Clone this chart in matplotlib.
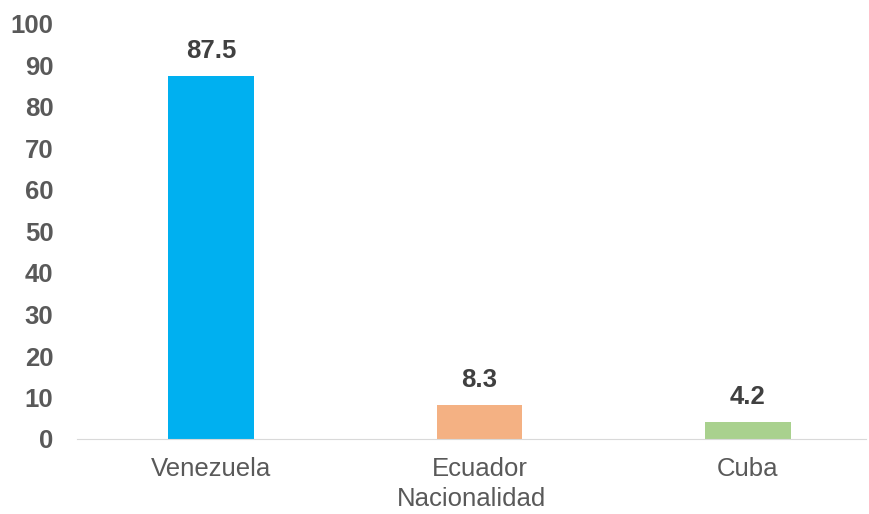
import matplotlib
matplotlib.use("Agg")
import matplotlib.pyplot as plt

countries = ["Venezuela", "Ecuador", "Cuba"]
shares = [87.5, 8.3, 4.2]
bar_colors = ["#00B0F0", "#F4B183", "#A9D18E"]
y_ticks = [0, 10, 20, 30, 40, 50, 60, 70, 80, 90, 100]

plt.rcParams["font.family"] = ["Liberation Sans", "DejaVu Sans"]

fig = plt.figure(figsize=(8.69, 5.14), dpi=100)
ax = fig.add_axes([77 / 869, 1 - 439 / 514, (866 - 77) / 869, (439 - 24) / 514])

x = list(range(len(countries)))
bars = ax.bar(x, shares, width=0.32, color=bar_colors)

# value labels above bars
for xi, v in zip(x, shares):
    ax.text(xi, v + 4.3, f"{v:.1f}", ha="center", va="baseline",
            fontsize=18.5, fontweight="bold", color="#404040")

ax.set_xlim(-0.5, 2.44)
ax.set_ylim(0, 100)
ax.set_yticks(y_ticks)
ax.set_yticklabels([str(t) for t in y_ticks], fontsize=18.5, fontweight="bold", color="#595959")
ax.set_xticks(x)
ax.set_xticklabels(countries, fontsize=18.5, color="#595959")
ax.set_xlabel("Nacionalidad", fontsize=18.5, color="#595959", labelpad=4)

for s in ["top", "right", "left"]:
    ax.spines[s].set_visible(False)
ax.spines["bottom"].set_color("#D9D9D9")
ax.tick_params(axis="both", length=0)
ax.tick_params(axis="x", pad=13)
ax.tick_params(axis="y", pad=17)

fig.savefig("out.png", dpi=100)
